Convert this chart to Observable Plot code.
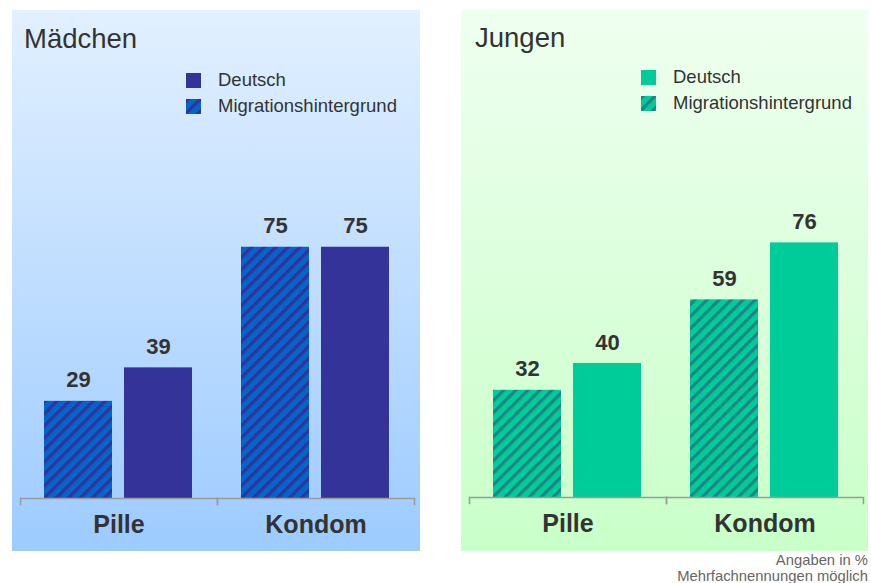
<!DOCTYPE html>
<html>
<head>
<meta charset="utf-8">
<script src="https://cdn.jsdelivr.net/npm/d3@7"></script>
<script src="https://cdn.jsdelivr.net/npm/@observablehq/plot@0.6"></script>
<style>
  html, body { margin: 0; padding: 0; background: #fff; }
  body { font-family: "Liberation Sans", Arial, sans-serif; }
  #wrap { position: relative; width: 871px; height: 583px; overflow: hidden; }
  .panel { position: absolute; top: 10px; height: 541px; }
  #pm { left: 12px; width: 408px; background: linear-gradient(to bottom, #e2f0ff, #9dcbff); }
  #pj { left: 461px; width: 407px; top: 9px; height: 542px; background: linear-gradient(to bottom, #effff0, #c9ffc9); }
  .panel svg.chart { position: absolute; left: 0; top: 0; }
  .title { position: absolute; font-size: 27.5px; line-height: 27px; color: #333; white-space: nowrap; }
  .legend { position: absolute; font-size: 18.5px; color: #333; }
  .legend .row { display: flex; align-items: center; height: 26px; white-space: nowrap; }
  .legend .sw { width: 15px; height: 15px; margin-right: 17px; flex: none; }
  .caption { position: absolute; right: 3px; top: 552px; font-size: 14.8px; line-height: 16px; color: #666; text-align: right; white-space: nowrap; }
</style>
</head>
<body>
<svg width="0" height="0" style="position:absolute">
  <defs>
    <pattern id="hatchM" patternUnits="userSpaceOnUse" width="8.5" height="8.5" patternTransform="rotate(45)">
      <rect width="8.5" height="8.5" fill="#0066cc"></rect>
      <rect width="3.4" height="8.5" fill="#333399"></rect>
    </pattern>
    <pattern id="hatchJ" patternUnits="userSpaceOnUse" width="8.5" height="8.5" patternTransform="rotate(45)">
      <rect width="8.5" height="8.5" fill="#00cc99"></rect>
      <rect width="3.2" height="8.5" fill="#1a8585"></rect>
    </pattern>
  </defs>
</svg>
<div id="wrap">
  <div class="panel" id="pm"></div>
  <div class="panel" id="pj"></div>
  <div class="caption">Angaben in %<br>Mehrfachnennungen möglich</div>
</div>
<script>
// ---- data ----
const categories = ["Pille", "Kondom"];
const origins = ["Migrationshintergrund", "Deutsch"];
const legendOrder = ["Deutsch", "Migrationshintergrund"];
const maedchenMigration = [29, 75];
const maedchenDeutsch = [39, 75];
const jungenMigration = [32, 59];
const jungenDeutsch = [40, 76];
const panelTitles = ["Mädchen", "Jungen"];

function rows(migration, deutsch) {
  const out = [];
  categories.forEach((c, i) => {
    out.push({category: c, origin: origins[0], value: migration[i]});
    out.push({category: c, origin: origins[1], value: deutsch[i]});
  });
  return out;
}

function makePanel(el, title, data, solid, hatch, legendPos, width, titleLeft) {
  const H = 541;
  const font = "'Liberation Sans', Arial, sans-serif";
  const chart = Plot.plot({
    width: width,
    height: H,
    marginLeft: 7,
    marginRight: width - 402,
    marginTop: 153,
    marginBottom: H - 494,
    style: {background: "transparent", fontFamily: font, overflow: "visible"},
    fx: {domain: categories, padding: 0, axis: null},
    x: {domain: origins, paddingInner: 0.148, paddingOuter: 0.293, axis: null},
    y: {domain: [0, 100], range: [488, 153], axis: null},
    marks: [
      Plot.barY(data, {filter: d => d.origin === "Migrationshintergrund", fx: "category", x: "origin", y: "value", fill: hatch}),
      Plot.barY(data, {filter: d => d.origin === "Deutsch", fx: "category", x: "origin", y: "value", fill: solid}),
      Plot.ruleY([0], {stroke: "#9a9a9a", strokeWidth: 1.5}),
      Plot.frame({anchor: "left", stroke: "#9a9a9a", strokeWidth: 1.5, insetTop: 335}),
      Plot.frame({anchor: "right", stroke: "#9a9a9a", strokeWidth: 1.5, insetTop: 335}),
      Plot.text(data, {fx: "category", x: "origin", y: "value", text: d => String(d.value), dy: -21,
        fontSize: 22, fontWeight: "bold", fill: "#333"}),
      Plot.text(categories, {fx: d => d, text: d => d, frameAnchor: "bottom", dy: 28,
        fontSize: 25, fontWeight: "bold", fill: "#333"})
    ]
  });
  chart.classList.add("chart");
  el.appendChild(chart);

  const t = document.createElement("div");
  t.className = "title";
  t.textContent = title;
  t.style.left = titleLeft + "px";
  t.style.top = "15px";
  el.appendChild(t);

  const lg = document.createElement("div");
  lg.className = "legend";
  lg.style.left = legendPos[0] + "px";
  lg.style.top = legendPos[1] + "px";
  legendOrder.forEach(o => {
    const r = document.createElement("div");
    r.className = "row";
    const sw = document.createElementNS("http://www.w3.org/2000/svg", "svg");
    sw.setAttribute("class", "sw");
    sw.setAttribute("width", 15);
    sw.setAttribute("height", 15);
    const rect = document.createElementNS("http://www.w3.org/2000/svg", "rect");
    rect.setAttribute("width", 15);
    rect.setAttribute("height", 15);
    rect.setAttribute("fill", o === "Deutsch" ? solid : hatch);
    sw.appendChild(rect);
    const s = document.createElement("span");
    s.textContent = o;
    r.appendChild(sw);
    r.appendChild(s);
    lg.appendChild(r);
  });
  el.appendChild(lg);
}

makePanel(document.getElementById("pm"), panelTitles[0], rows(maedchenMigration, maedchenDeutsch),
  "#333399", "url(#hatchM)", [174, 57], 408, 12);
makePanel(document.getElementById("pj"), panelTitles[1], rows(jungenMigration, jungenDeutsch),
  "#00cc99", "url(#hatchJ)", [180, 55], 407, 14);
</script>
</body>
</html>
